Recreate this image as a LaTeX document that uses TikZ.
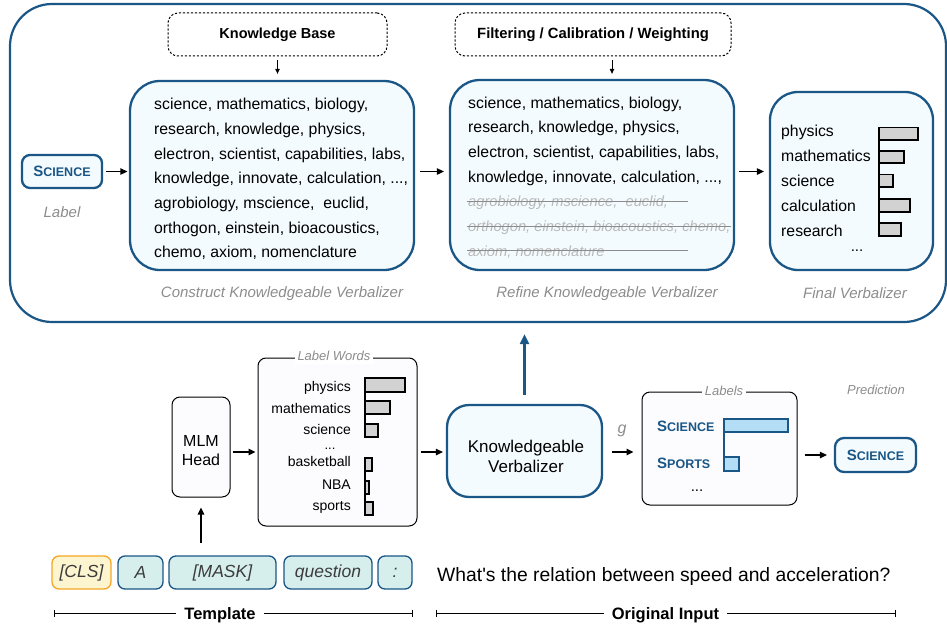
\documentclass[tikz,border=0pt]{standalone}
\usepackage{fontspec}
\setmainfont{Liberation Sans}
\usetikzlibrary{arrows.meta,calc}
\definecolor{kblue}{RGB}{26,86,134}
\definecolor{kfill}{RGB}{244,251,254}
\definecolor{capgray}{RGB}{140,140,140}
\definecolor{strikegray}{RGB}{185,185,185}
\definecolor{strikeline}{RGB}{140,140,140}
\definecolor{barfill}{RGB}{210,210,210}
\definecolor{lblfill}{RGB}{180,222,245}
\definecolor{mint}{RGB}{214,239,236}
\definecolor{clsfill}{RGB}{253,244,208}
\definecolor{clsorange}{RGB}{245,166,35}
\definecolor{offwhite}{RGB}{252,252,254}
\definecolor{tokentext}{RGB}{60,60,60}
\newcommand{\kfont}[1]{\fontsize{#1}{#1}\selectfont}
\newcommand{\kSC}[2]{\textbf{{\fontsize{15}{15}\selectfont #1}{\fontsize{12.5}{12.5}\selectfont #2}}}
\newcommand{\tdots}{...}
\begin{document}
\begin{tikzpicture}[x=1pt,y=-1pt,
  arr/.style={-{Triangle[length=7pt,width=6.5pt]},line width=1.3pt},
  smallarr/.style={-{Triangle[length=5pt,width=4.5pt]},line width=0.9pt},
  bluebox/.style={draw=kblue,line width=2.3pt,fill=kfill,inner sep=0pt},
  dashbox/.style={draw=black,line width=1pt,dash pattern=on 2.2pt off 1.8pt,rounded corners=10pt,fill=white,inner sep=0pt},
  plainbox/.style={draw=black,line width=1pt,rounded corners=8pt,fill=offwhite,inner sep=0pt},
  token/.style={draw=kblue,line width=1.3pt,fill=mint,rounded corners=7pt,minimum height=33pt,inner sep=0pt,font=\kfont{17.5}\itshape,text=tokentext},
  capt/.style={font=\kfont{15}\itshape,text=capgray,inner sep=0pt},
  minicapt/.style={font=\kfont{13}\itshape,text=capgray,inner sep=3pt,fill=white},
  bodytext/.style={font=\kfont{15.8},inner sep=0pt,anchor=base west},
  gonetext/.style={font=\kfont{14.7}\itshape,text=strikegray,inner sep=0pt,anchor=base west},
  lwword/.style={font=\kfont{14},inner sep=0pt,anchor=base east},
  graybar/.style={draw=black,line width=1.8pt,fill=barfill},
  bluebar/.style={draw=kblue,line width=2pt,fill=lblfill},
  scword/.style={inner sep=0pt,text=kblue},
  bracket/.style={{Bar[width=7pt]}-{Bar[width=7pt]},line width=0.8pt},
  brlabel/.style={fill=white,inner xsep=8pt,inner ysep=2pt,font=\kfont{16.5}\bfseries,anchor=base}
]
\useasboundingbox (0,0) rectangle (947,626);

% ---------- top panel ----------
\node[draw=kblue,line width=2.2pt,rounded corners=42pt,minimum width=936,minimum height=318,inner sep=0pt] (outer) at (478,163) {};

\node[dashbox,minimum width=219,minimum height=43,font=\kfont{14.5}\bfseries] (kb) at (277.5,34.5) {Knowledge Base};
\node[dashbox,minimum width=276,minimum height=43,font=\kfont{14.8}\bfseries] (flt) at (593,34.5) {Filtering / Calibration / Weighting};

\node[bluebox,rounded corners=30pt,minimum width=284,minimum height=189] (construct) at (272,175.5) {};
\node[bluebox,rounded corners=30pt,minimum width=284,minimum height=190] (refine) at (592,175) {};
\node[bluebox,rounded corners=28pt,minimum width=163,minimum height=178] (final) at (851.5,181) {};
\node[bluebox,rounded corners=8pt,minimum width=80,minimum height=33,text=kblue] (sciL) at (62,171.5) {\kSC{S}{CIENCE}};

\node[capt] (capL) at (62,212) {Label};
\node[capt] (capC) at (282,294) {Construct Knowledgeable Verbalizer};
\node[capt] (capR) at (607,294) {Refine Knowledgeable Verbalizer};
\node[capt] (capF) at (855,293) {Final Verbalizer};

% construct text
\foreach \t [count=\i from 0] in {{science, mathematics, biology,},{research, knowledge, physics,},{electron, scientist, capabilities, labs,},{knowledge, innovate, calculation, \tdots,},{agrobiology, mscience,\ \ euclid,},{orthogon, einstein, bioacoustics,},{chemo, axiom, nomenclature}}
  \node[bodytext] (c\i) at (154,{109.6+24.7*\i}) {\t};

% refine text
\foreach \t [count=\i from 0] in {{science, mathematics, biology,},{research, knowledge, physics,},{electron, scientist, capabilities, labs,},{knowledge, innovate, calculation, \tdots,}}
  \node[bodytext] (r\i) at (468,{108+24.7*\i}) {\t};
\foreach \t [count=\i from 4] in {{agrobiology, mscience,\ \ euclid,},{orthogon, einstein, bioacoustics, chemo,},{axiom, nomenclature}}
  \node[gonetext] (r\i) at (468,{108+24.7*\i}) {\t};
\draw[strikeline,line width=0.9pt] (467,201.6) -- (688,201.6);
\draw[strikeline,line width=0.9pt] (467,226.2) -- (731,226.2);
\draw[strikeline,line width=0.9pt] (467,250.9) -- (688,250.9);

% final verbalizer
\foreach \t [count=\i from 0] in {physics,mathematics,science,calculation,research}
  \node[bodytext] (f\i) at (781,{136.5+24.9*\i}) {\t};
\node[font=\kfont{15},inner sep=0pt,anchor=base] (fdots) at (857,251) {\tdots};
\draw[graybar] (879,127.5) rectangle (918,140);
\draw[graybar] (879,151) rectangle (904,163.3);
\draw[graybar] (879,174.5) rectangle (893,186.7);
\draw[graybar] (879,199.3) rectangle (910,211.7);
\draw[graybar] (879,223.3) rectangle (901,235.7);
\draw[line width=1.8pt] (879,127.5) -- (879,235.7);

% top arrows
\draw[smallarr,shorten <=4pt,shorten >=6pt] (kb.south) -- (kb.south |- construct.north);
\coordinate (fltdown) at (612,56);
\draw[smallarr,shorten <=4pt,shorten >=5pt] (fltdown) -- (fltdown |- refine.north);
\draw[arr,shorten <=3pt,shorten >=1.5pt] (sciL.east) -- (sciL.east -| construct.west);
\draw[arr,shorten <=5pt,shorten >=5pt] (construct.east |- sciL.east) -- (refine.west |- sciL.east);
\draw[arr,shorten <=4pt,shorten >=5pt] (refine.east |- sciL.east) -- (final.west |- sciL.east);

% ---------- bottom pipeline ----------
\node[plainbox,minimum width=58,minimum height=100] (mlm) at (201,447) {};
\node[font=\kfont{16},inner sep=0pt,anchor=base] (mlm1) at (201,446.5) {MLM};
\node[font=\kfont{16},inner sep=0pt,anchor=base] (mlm2) at (201,465.5) {Head};

\node[plainbox,minimum width=159,minimum height=168] (lwbox) at (337.5,442) {};
\node[minicapt] (lwtitle) at (334,356) {Label Words};
\node[lwword] (w1) at (351,391) {physics};
\node[lwword] (w2) at (351,413) {mathematics};
\node[lwword] (w3) at (351,434.8) {science};
\node[font=\kfont{13},inner sep=0pt,anchor=base] (wdots) at (330,449.5) {\tdots};
\node[lwword] (w4) at (351,466.5) {basketball};
\node[lwword] (w5) at (351,489) {NBA};
\node[lwword] (w6) at (351,510.5) {sports};
\draw[graybar] (365,378) rectangle (405,392);
\draw[graybar] (365,401) rectangle (390,414);
\draw[graybar] (365,424) rectangle (378,437);
\draw[graybar] (365,458) rectangle (372,471);
\draw[graybar] (365,481) rectangle (369,494);
\draw[graybar] (365,502) rectangle (373,515);
\draw[line width=1.8pt] (365,378) -- (365,437);
\draw[line width=1.8pt] (365,458) -- (365,515);

\node[bluebox,rounded corners=22pt,minimum width=155,minimum height=92] (kv) at (524.5,451) {};
\node[font=\kfont{17},inner sep=0pt,anchor=base] (kv1) at (526,452) {Knowledgeable};
\node[font=\kfont{17},inner sep=0pt,anchor=base] (kv2) at (526,472) {Verbalizer};

\node[plainbox,minimum width=155,minimum height=113] (lab) at (719.5,448.5) {};
\node[minicapt] (labtitle) at (724,391) {Labels};
\node[scword,anchor=base west] (ls1) at (657,431) {\kSC{S}{CIENCE}};
\node[scword,anchor=base west] (ls2) at (657,468) {\kSC{S}{PORTS}};
\node[font=\kfont{15},inner sep=0pt,anchor=base] (ldots) at (697,491) {\tdots};
\draw[bluebar] (724,418.5) rectangle (788,431.5);
\draw[bluebar] (724,457) rectangle (739,470.5);
\draw[kblue,line width=2pt] (724,418.5) -- (724,470.5);

\node[bluebox,rounded corners=9pt,minimum width=81,minimum height=34,text=kblue] (pred) at (875.5,455) {\kSC{S}{CIENCE}};
\node[capt,font=\kfont{13}\itshape] (predt) at (876,390) {Prediction};
\node[font=\kfont{16}\itshape,text=capgray,inner sep=0pt] (g) at (622,431) {g};

% bottom arrows
\coordinate (r1) at (0,452);
\draw[arr,shorten <=2pt,shorten >=2pt] (mlm.east |- r1) -- (lwbox.west |- r1);
\draw[arr,shorten <=3pt,shorten >=3pt] (lwbox.east |- r1) -- (kv.west |- r1);
\draw[arr,shorten <=9pt,shorten >=8pt] (kv.east |- r1) -- (lab.west |- r1);
\draw[arr,shorten <=7pt,shorten >=7pt] (lab.east |- pred.west) -- (pred.west);
\draw[-{Triangle[length=10pt,width=9pt]},kblue,line width=2.5pt,shorten <=9pt,shorten >=11pt] (kv.north) -- (kv.north |- outer.south);
\coordinate (tokup) at (201,543);
\draw[arr,shorten >=10pt] (tokup) -- (mlm.south);

% ---------- tokens ----------
\node[token,fill=clsfill,draw=clsorange,minimum width=59] (cls) at (81.5,572.5) {[CLS]};
\node[token,minimum width=45] (tA) at (140.5,572.5) {A};
\node[token,minimum width=107] (tmask) at (222.5,572.5) {[MASK]};
\node[token,minimum width=88] (tq) at (328,572.5) {question};
\node[token,minimum width=34] (tc) at (395,572.5) {:};

\node[font=\kfont{19.3},anchor=base west,inner sep=0pt] (sent) at (437,581) {What\textquotesingle s the relation between speed and acceleration?};

% ---------- brackets ----------
\coordinate (tl) at (54,613);
\coordinate (tr) at (413,613);
\coordinate (ol) at (436,613);
\coordinate (or) at (896,613);
\draw[bracket] (tl) -- (tr);
\draw[bracket] (ol) -- (or);
\node[brlabel] (tmpl) at (220,619) {Template};
\node[brlabel] (orig) at (665.5,619) {Original Input};
\end{tikzpicture}
\end{document}
